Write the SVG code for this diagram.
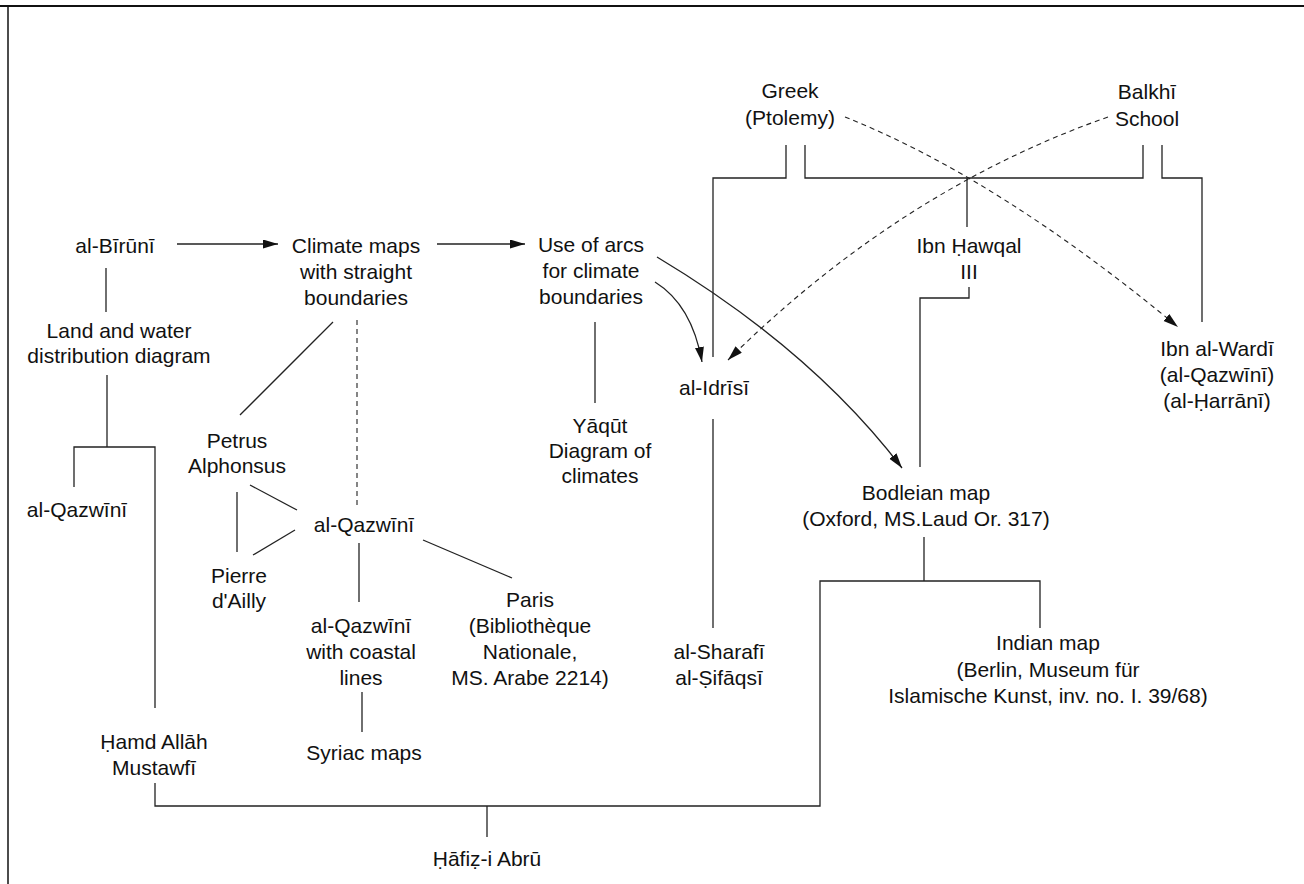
<svg xmlns="http://www.w3.org/2000/svg" width="1304" height="884" viewBox="0 0 1304 884">
<defs>
<marker id="ah" markerUnits="userSpaceOnUse" markerWidth="16" markerHeight="10" refX="15" refY="4.5" orient="auto">
<path d="M0,0 L15,4.5 L0,9 z" fill="#111"/>
</marker>
<style>
text{font-family:"Liberation Sans",Arial,sans-serif;font-size:21px;fill:#111;text-anchor:middle}
.ln{fill:none;stroke:#222;stroke-width:1.3}
.ds{fill:none;stroke:#222;stroke-width:1.1;stroke-dasharray:5 4}
.fr{fill:none;stroke:#111}
</style>
</defs>
<rect width="1304" height="884" fill="#fff"/>
<g id="frame">
<line class="fr" x1="0" y1="6" x2="1304" y2="6" stroke-width="2"/>
<line class="fr" x1="8" y1="6" x2="8" y2="884" stroke-width="1.5"/>
</g>
<g id="connectors">
<path class="ln" d="M786,145 V178 H713 V357"/>
<path class="ln" d="M805,145 V178 H1143 V145"/>
<path class="ln" d="M967,178 V227"/>
<path class="ln" d="M1162,145 V178 H1202 V322"/>
<path class="ds" d="M845,117 Q998,178 1178,327" marker-end="url(#ah)"/>
<path class="ds" d="M1108,117 Q900,190 728,360" marker-end="url(#ah)"/>
<path class="ln" d="M177,244 H278" marker-end="url(#ah)"/>
<path class="ln" d="M437,244 H525" marker-end="url(#ah)"/>
<path class="ln" d="M655,282 Q692,305 702,362" marker-end="url(#ah)"/>
<path class="ln" d="M657,257 Q812,350 902,468" marker-end="url(#ah)"/>
<path class="ln" d="M595,322 V403"/>
<path class="ln" d="M969,287 V298 H920 V467"/>
<path class="ln" d="M106,268 V312"/>
<path class="ln" d="M107,375 V447"/>
<path class="ln" d="M74,487 V447 H155 V708"/>
<path class="ln" d="M333,322 L240,415"/>
<path class="ds" d="M357,320 V508"/>
<path class="ln" d="M250,485 L297,510"/>
<path class="ln" d="M237,492 V552"/>
<path class="ln" d="M253,555 L295,530"/>
<path class="ln" d="M423,540 L512,578"/>
<path class="ln" d="M359,543 V602"/>
<path class="ln" d="M362,692 V732"/>
<path class="ln" d="M713,419 V628"/>
<path class="ln" d="M924,537 V581"/>
<path class="ln" d="M1040,628 V581 H820 V806 H155 V783"/>
<path class="ln" d="M487,806 V837"/>
</g>
<g id="greek"><text x="790" y="98">Greek</text><text x="790" y="125">(Ptolemy)</text></g>
<g id="balkhi"><text x="1147" y="99">Balkhī</text><text x="1147" y="126">School</text></g>
<g id="biruni"><text x="115" y="253">al-Bīrūnī</text></g>
<g id="climate-maps"><text x="356" y="253">Climate maps</text><text x="356" y="279">with straight</text><text x="356" y="305">boundaries</text></g>
<g id="arcs"><text x="591" y="252">Use of arcs</text><text x="591" y="278">for climate</text><text x="591" y="304">boundaries</text></g>
<g id="ibn-hawqal"><text x="969" y="253">Ibn Ḥawqal</text><text x="969" y="279">III</text></g>
<g id="land-water"><text x="119" y="338">Land and water</text><text x="119" y="363">distribution diagram</text></g>
<g id="ibn-wardi"><text x="1217" y="356">Ibn al-Wardī</text><text x="1217" y="382">(al-Qazwīnī)</text><text x="1217" y="408">(al-Ḥarrānī)</text></g>
<g id="idrisi"><text x="714" y="395">al-Idrīsī</text></g>
<g id="yaqut"><text x="600" y="433">Yāqūt</text><text x="600" y="458">Diagram of</text><text x="600" y="483">climates</text></g>
<g id="petrus"><text x="237" y="448">Petrus</text><text x="237" y="473">Alphonsus</text></g>
<g id="qazwini-left"><text x="77" y="517">al-Qazwīnī</text></g>
<g id="qazwini-mid"><text x="364" y="532">al-Qazwīnī</text></g>
<g id="pierre"><text x="239" y="583">Pierre</text><text x="239" y="608">d'Ailly</text></g>
<g id="bodleian"><text x="926" y="500">Bodleian map</text><text x="926" y="526">(Oxford, MS.Laud Or. 317)</text></g>
<g id="paris"><text x="530" y="607">Paris</text><text x="530" y="633">(Bibliothèque</text><text x="530" y="659">Nationale,</text><text x="530" y="685">MS. Arabe 2214)</text></g>
<g id="qazwini-coastal"><text x="361" y="633">al-Qazwīnī</text><text x="361" y="659">with coastal</text><text x="361" y="685">lines</text></g>
<g id="sharafi"><text x="719" y="659">al-Sharafī</text><text x="719" y="685">al-Ṣifāqsī</text></g>
<g id="indian"><text x="1048" y="650">Indian map</text><text x="1048" y="677">(Berlin, Museum für</text><text x="1048" y="703">Islamische Kunst, inv. no. I. 39/68)</text></g>
<g id="syriac"><text x="364" y="760">Syriac maps</text></g>
<g id="hamd"><text x="154" y="749">Ḥamd Allāh</text><text x="154" y="775">Mustawfī</text></g>
<g id="hafiz"><text x="487" y="866">Ḥāfiẓ-i Abrū</text></g>
</svg>
